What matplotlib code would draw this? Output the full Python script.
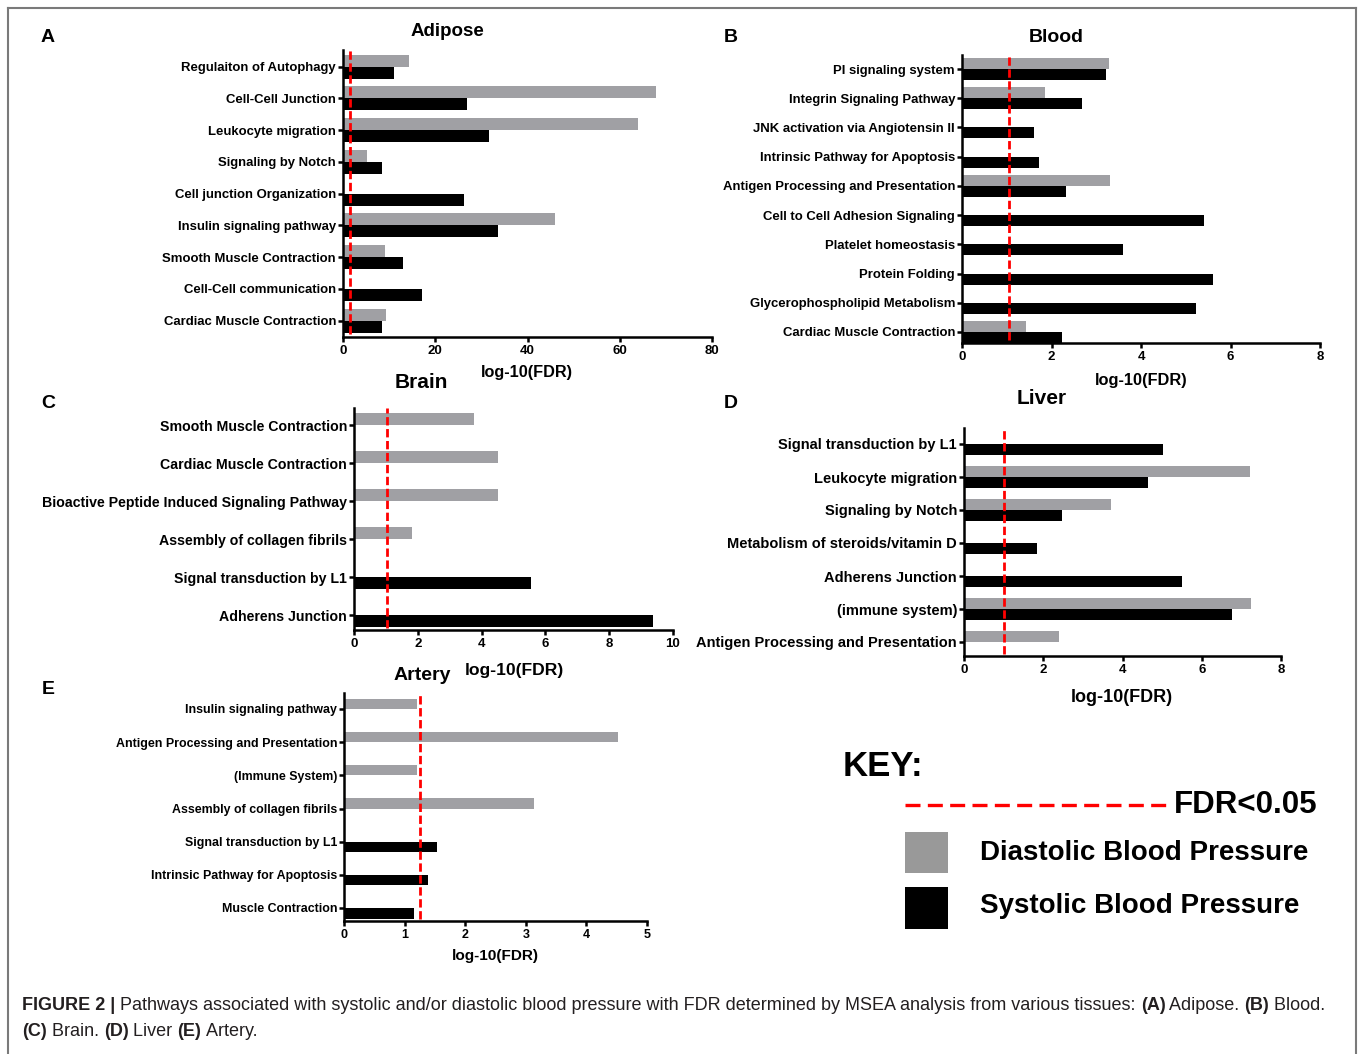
import numpy as np
import matplotlib
matplotlib.use("Agg")
import matplotlib.pyplot as plt
from matplotlib.lines import Line2D
from matplotlib.patches import Rectangle

nan = np.nan

# ---------------- data ----------------
adipose_pathways = ["Regulaiton of Autophagy", "Cell-Cell Junction", "Leukocyte migration",
                    "Signaling by Notch", "Cell junction Organization", "Insulin signaling pathway",
                    "Smooth Muscle Contraction", "Cell-Cell communication", "Cardiac Muscle Contraction"]
adipose_dbp = [14.3, 67.8, 63.9, 5.1, nan, 46.0, 9.1, nan, 9.3]
adipose_sbp = [11.1, 26.8, 31.6, 8.4, 26.2, 33.7, 12.9, 17.2, 8.4]
adipose_fdr = 1.6
adipose_ticks = [0, 20, 40, 60, 80]

blood_pathways = ["PI signaling system", "Integrin Signaling Pathway", "JNK activation via Angiotensin II",
                  "Intrinsic Pathway for Apoptosis", "Antigen Processing and Presentation",
                  "Cell to Cell Adhesion Signaling", "Platelet homeostasis", "Protein Folding",
                  "Glycerophospholipid Metabolism", "Cardiac Muscle Contraction"]
blood_dbp = [3.29, 1.86, nan, nan, 3.31, nan, nan, nan, nan, 1.42]
blood_sbp = [3.22, 2.69, 1.60, 1.73, 2.33, 5.41, 3.60, 5.60, 5.22, 2.23]
blood_fdr = 1.05
blood_ticks = [0, 2, 4, 6, 8]

brain_pathways = ["Smooth Muscle Contraction", "Cardiac Muscle Contraction",
                  "Bioactive Peptide Induced Signaling Pathway", "Assembly of collagen fibrils",
                  "Signal transduction by L1", "Adherens Junction"]
brain_dbp = [3.75, 4.50, 4.52, 1.82, nan, nan]
brain_sbp = [nan, nan, nan, nan, 5.54, 9.36]
brain_fdr = 1.02
brain_ticks = [0, 2, 4, 6, 8, 10]

liver_pathways = ["Signal transduction by L1", "Leukocyte migration", "Signaling by Notch",
                  "Metabolism of steroids/vitamin D", "Adherens Junction", "(immune system)",
                  "Antigen Processing and Presentation"]
liver_dbp = [nan, 7.22, 3.70, nan, nan, 7.25, 2.40]
liver_sbp = [5.03, 4.64, 2.47, 1.85, 5.51, 6.77, nan]
liver_fdr = 1.0
liver_ticks = [0, 2, 4, 6, 8]

artery_pathways = ["Insulin signaling pathway", "Antigen Processing and Presentation", "(Immune System)",
                   "Assembly of collagen fibrils", "Signal transduction by L1",
                   "Intrinsic Pathway for Apoptosis", "Muscle Contraction"]
artery_dbp = [1.20, 4.52, 1.20, 3.13, nan, nan, nan]
artery_sbp = [nan, nan, nan, nan, 1.53, 1.39, 1.15]
artery_fdr = 1.25
artery_ticks = [0, 1, 2, 3, 4, 5]

# ---------------- style ----------------
W, H = 1360, 1054
NARROW = ['Liberation Sans Narrow', 'Liberation Sans', 'DejaVu Sans']
SANS = ['Liberation Sans', 'DejaVu Sans']
GRAY = '#a0a0a4'
plt.rcParams['font.family'] = NARROW

fig = plt.figure(figsize=(W / 100, H / 100), dpi=100)

def add_ax(x0, x1, ytop, ybot):
    return fig.add_axes([x0 / W, 1 - ybot / H, (x1 - x0) / W, (ybot - ytop) / H])

def panel(geom, names, dbp, sbp, fdr, ticks, title, xlabel_pos, title_pos, letter_pos,
          ylab_size, xlab_size, tick_size=9.5, title_size=14):
    x0, x1, ytop, ybot, t_first, t_last, bar_px = geom
    ax = add_ax(x0, x1, ytop, ybot)
    n = len(names)
    sp = (t_last - t_first) / (n - 1)
    h = bar_px / sp
    idx = np.arange(n)
    for i in idx:
        if not np.isnan(dbp[i]):
            ax.barh(i - h, dbp[i], height=h, align='edge', color=GRAY, edgecolor='none')
        if not np.isnan(sbp[i]):
            ax.barh(i, sbp[i], height=h, align='edge', color='black', edgecolor='none')
    ax.set_ylim((ybot - t_first) / sp, (ytop - t_first) / sp)
    ax.set_xlim(ticks[0], ticks[-1])
    ax.set_xticks(ticks)
    ax.set_xticklabels([str(t) for t in ticks], fontsize=tick_size, fontweight='bold')
    ax.set_yticks(idx)
    ax.set_yticklabels(names, fontsize=ylab_size, fontweight='bold')
    for s in ['top', 'right']:
        ax.spines[s].set_visible(False)
    for s in ['left', 'bottom']:
        ax.spines[s].set_linewidth(1.8)
    ax.tick_params(axis='both', length=3.5, width=1.8, pad=1.5)
    ax.tick_params(axis='x', pad=2.5)
    ln = ax.axvline(fdr, ymin=0.01, ymax=1.0, color='#ff0000', lw=2)
    ln.set_dashes([3, 1.3])
    fig.text(xlabel_pos[0] / W, 1 - xlabel_pos[1] / H, 'log-10(FDR)', ha='center', va='center',
             fontsize=xlab_size, fontweight='bold')
    fig.text(title_pos[0] / W, 1 - title_pos[1] / H, title, ha='center', va='center',
             fontsize=title_size, fontweight='bold')
    fig.text(letter_pos[1][0] / W, 1 - letter_pos[1][1] / H, letter_pos[0], ha='center', va='center',
             fontsize=14, fontweight='bold', family=SANS)
    return ax

panel((343, 712, 50, 337, 66.7, 320.7, 12), adipose_pathways, adipose_dbp, adipose_sbp, adipose_fdr,
      adipose_ticks, 'Adipose', (527, 373), (447, 31), ('A', (48, 37)), 9.45, 11.7, title_size=13.5)
panel((962, 1320, 55, 343, 69, 332, 11), blood_pathways, blood_dbp, blood_sbp, blood_fdr,
      blood_ticks, 'Blood', (1141, 380), (1056, 37), ('B', (731, 37)), 9.45, 11.8)
panel((354, 673, 408, 630, 425, 615, 12), brain_pathways, brain_dbp, brain_sbp, brain_fdr,
      brain_ticks, 'Brain', (514, 670), (421, 383), ('C', (48, 404)), 10.2, 12.6, title_size=15)
panel((964, 1281, 428, 656, 444, 642, 11), liver_pathways, liver_dbp, liver_sbp, liver_fdr,
      liver_ticks, 'Liver', (1122, 697), (1042, 398), ('D', (731, 404)), 10.5, 13, title_size=15)
panel((344, 647, 693, 921, 709, 908, 10.5), artery_pathways, artery_dbp, artery_sbp, artery_fdr,
      artery_ticks, 'Artery', (495, 956), (422, 676), ('E', (48, 690)), 8.9, 11.1, tick_size=9)

# ---------------- key ----------------
def fx(x):
    return x / W

def fy(y):
    return 1 - y / H

fig.text(fx(843), fy(766), 'KEY:', fontsize=25, fontweight='bold', family=SANS, va='center', ha='left')
kl = Line2D([fx(905), fx(1172)], [fy(805), fy(805)], transform=fig.transFigure, color='#ff0000', lw=2.4)
kl.set_dashes([4.5, 2.2])
fig.add_artist(kl)
fig.text(fx(1174), fy(805), 'FDR<0.05', fontsize=22.5, fontweight='bold', family=SANS, va='center', ha='left')
fig.add_artist(Rectangle((fx(905), fy(873)), fx(43), 41 / H, transform=fig.transFigure,
                         facecolor='#999999', edgecolor='none'))
fig.text(fx(980), fy(853), 'Diastolic Blood Pressure', fontsize=20, fontweight='bold', family=SANS,
         va='center', ha='left')
fig.add_artist(Rectangle((fx(905), fy(929)), fx(43), 42 / H, transform=fig.transFigure,
                         facecolor='black', edgecolor='none'))
fig.text(fx(980), fy(906), 'Systolic Blood Pressure', fontsize=20, fontweight='bold', family=SANS,
         va='center', ha='left')

# ---------------- frame ----------------
FR = '#7a7a7a'
for xs, ys in [([8, 1356], [8, 8]), ([8, 8], [8, 1054]), ([1356, 1356], [8, 1054])]:
    fig.add_artist(Line2D([fx(v) for v in xs], [fy(v) for v in ys], transform=fig.transFigure,
                          color=FR, lw=1.5))

# ---------------- caption ----------------
renderer = fig.canvas.get_renderer()
CAP = 13.0
CAPC = '#231f20'

def caption_line(parts, x, y):
    for txt, bold in parts:
        t = fig.text(fx(x), fy(y), txt, fontsize=CAP, fontweight='bold' if bold else 'normal',
                     family=SANS, color=CAPC, va='center', ha='left')
        bb = t.get_window_extent(renderer=renderer)
        x += bb.width

caption_line([("FIGURE 2 |", True),
              (" Pathways associated with systolic and/or diastolic blood pressure with FDR determined by MSEA analysis from various tissues: ", False),
              ("(A)", True), (" Adipose. ", False), ("(B)", True), (" Blood.", False)], 22, 1006)
caption_line([("(C)", True), (" Brain. ", False), ("(D)", True), (" Liver ", False),
              ("(E)", True), (" Artery.", False)], 22, 1032)

fig.savefig('out.png', dpi=100)
